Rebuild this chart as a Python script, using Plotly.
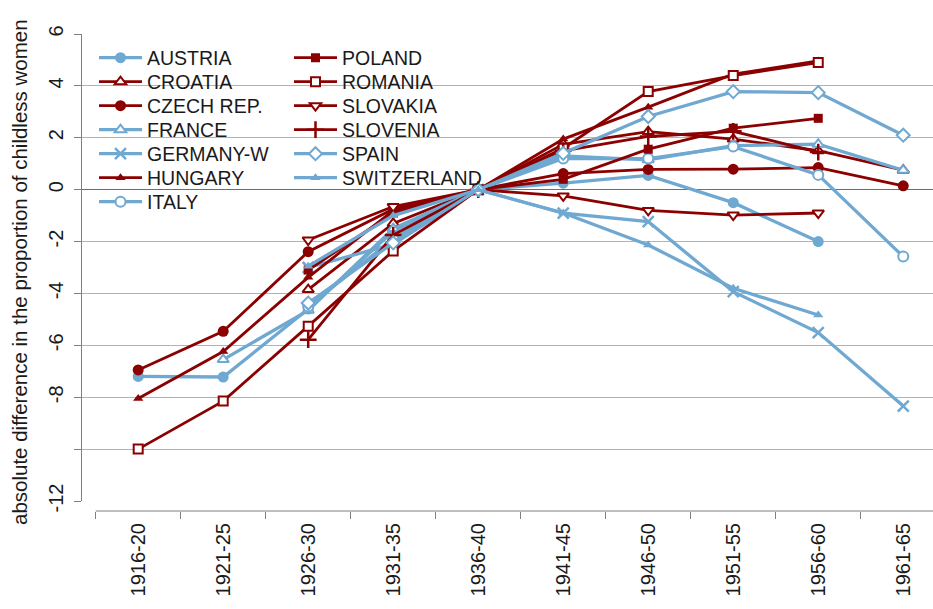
import plotly.graph_objects as go

cohorts = ["1916-20", "1921-25", "1926-30", "1931-35", "1936-40",
           "1941-45", "1946-50", "1951-55", "1956-60", "1961-65"]

austria     = [-7.20, -7.22, -4.60, -1.60, 0, 0.25, 0.55, -0.50, -2.00, None]
croatia     = [None, None, -3.85, -1.30, 0, 1.75, 2.24, 1.95, 1.50, 0.75]
czech       = [-6.95, -5.46, -2.39, -0.75, 0, 0.62, 0.78, 0.79, 0.85, 0.15]
france      = [None, -6.55, -4.65, -1.50, 0, 1.30, 1.15, 1.70, 1.75, 0.75]
germany_w   = [None, None, -3.00, -2.10, 0, -0.90, -1.23, -3.93, -5.51, -8.34]
hungary     = [-8.05, -6.24, -3.38, -0.80, 0, 1.95, 3.18, 4.45, 4.96, None]
italy       = [None, None, -4.50, -1.90, 0, 1.20, 1.20, 1.66, 0.57, -2.58]
poland      = [None, None, -3.10, -0.90, 0, 0.40, 1.56, 2.37, 2.75, None]
romania     = [-10.00, -8.15, -5.26, -2.36, 0, 1.60, 3.78, 4.40, 4.90, None]
slovakia    = [None, None, -1.94, -0.65, 0, -0.24, -0.80, -0.98, -0.90, None]
slovenia    = [None, None, -5.78, -1.75, 0, 1.50, 2.05, 2.25, 1.45, None]
spain       = [None, None, -4.37, -2.05, 0, 1.40, 2.82, 3.78, 3.74, 2.10]
switzerland = [None, None, -2.95, -1.00, 0, -0.90, -2.13, -3.80, -4.83, None]

y_tickvals = [-10, -8, -6, -4, -2, 0, 2, 4, 6]
y_ticktext = ["", "-8", "-6", "-4", "-2", "0", "2", "4", "6"]

BLUE = "#6FA8D1"
RED = "#8B0000"

series = [
    ("AUSTRIA", austria, BLUE, "circle", True, 11),
    ("CROATIA", croatia, RED, "triangle-up", False, 10),
    ("CZECH REP.", czech, RED, "circle", True, 11),
    ("FRANCE", france, BLUE, "triangle-up", False, 10),
    ("GERMANY-W", germany_w, BLUE, "x-thin", False, 11),
    ("HUNGARY", hungary, RED, "triangle-up", True, 9),
    ("ITALY", italy, BLUE, "circle", False, 10),
    ("POLAND", poland, RED, "square", True, 9),
    ("ROMANIA", romania, RED, "square", False, 9),
    ("SLOVAKIA", slovakia, RED, "triangle-down", False, 10),
    ("SLOVENIA", slovenia, RED, "cross-thin", False, 12),
    ("SPAIN", spain, BLUE, "diamond", False, 10),
    ("SWITZERLAND", switzerland, BLUE, "triangle-up", True, 9),
]

W, H = 933, 609
ML, MT, MB = 82, 34, 98
plot_w = W - ML
plot_h = H - MT - MB
y_bottom = (511 - 501) / plot_h

fig = go.Figure()
legends = {}
for i, (name, vals, color, symbol, filled, size) in enumerate(series):
    lw = 3.3 if color == BLUE else 2.8
    if symbol in ("x-thin", "cross-thin"):
        marker = dict(symbol=symbol, size=size, color=color,
                      line=dict(color=color, width=2.5))
    elif filled:
        marker = dict(symbol=symbol, size=size, color=color,
                      line=dict(width=0))
    else:
        marker = dict(symbol=symbol, size=size, color="white",
                      line=dict(color=color, width=2))
    leg = "legend" if i == 0 else f"legend{i + 1}"
    col, row = (0, i) if i < 7 else (1, i - 7)
    line_start = 100 if col == 0 else 295
    row_y = 58 + 24 * row
    legends[leg] = dict(
        x=(line_start - 6 - ML) / plot_w, y=(H - MB - row_y) / plot_h,
        xanchor="left", yanchor="middle",
        bgcolor="rgba(0,0,0,0)", font=dict(size=19.5), itemwidth=43,
    )
    fig.add_trace(go.Scatter(
        x=cohorts, y=vals, name=name, mode="lines+markers",
        line=dict(color=color, width=lw), marker=marker,
        legend=leg, connectgaps=False,
    ))

fig.add_trace(go.Scatter(x=[cohorts[0]], y=[None], yaxis="y2",
                         showlegend=False, hoverinfo="skip"))

fig.update_layout(
    width=W, height=H,
    margin=dict(l=ML, r=0, t=MT, b=MB, pad=0),
    paper_bgcolor="white", plot_bgcolor="white",
    font=dict(family="Arial, Liberation Sans, sans-serif", size=19, color="#1a1a1a"),
    showlegend=True,
    xaxis=dict(
        type="category", categoryorder="array", categoryarray=cohorts,
        range=[-0.5 - 13.7 / 85, 9.5 - 0.15],
        anchor="free", position=0,
        showline=False, showgrid=False, zeroline=False,
        ticks="outside", tickson="boundaries", ticklen=7,
        tickcolor="#808080", tickwidth=1,
        tickangle=-90, tickfont=dict(size=20), ticklabelstandoff=7,
        automargin=False,
    ),
    yaxis=dict(
        domain=[y_bottom, 1],
        range=[-12, 6],
        tickmode="array", tickvals=y_tickvals, ticktext=y_ticktext,
        tickangle=-90, tickfont=dict(size=20), ticklabelstandoff=3,
        showline=True, linecolor="#808080", linewidth=1,
        ticks="outside", ticklen=7, tickcolor="#808080",
        showgrid=True, gridcolor="#b3b3b3", gridwidth=1.3,
        zeroline=True, zerolinecolor="#6e6e6e", zerolinewidth=1.3,
        automargin=False,
    ),
    yaxis2=dict(
        overlaying="y", anchor="x", side="left",
        domain=[y_bottom, 1], range=[-12, 6],
        tickmode="array", tickvals=[-12], ticktext=["-12"],
        tickangle=-90, tickfont=dict(size=20), ticklabelstandoff=3,
        showline=False, showgrid=False, zeroline=False,
        ticks="outside", ticklen=7, tickcolor="#808080",
        automargin=False,
    ),
    shapes=[dict(type="line", xref="paper", yref="paper",
                 x0=(95.7 - ML) / plot_w, x1=1, y0=0, y1=0,
                 line=dict(color="#808080", width=1))],
    annotations=[dict(
        text="absolute difference in the proportion of childless women",
        xref="paper", yref="paper", x=(19 - ML) / plot_w, y=(H - MB - 272) / plot_h,
        textangle=-90, showarrow=False, font=dict(size=20.5),
        xanchor="center", yanchor="middle",
    )],
)
fig.update_layout(**legends)

fig.write_html("out.html", config={"displayModeBar": False},
               post_script="document.body.style.margin='0';")
